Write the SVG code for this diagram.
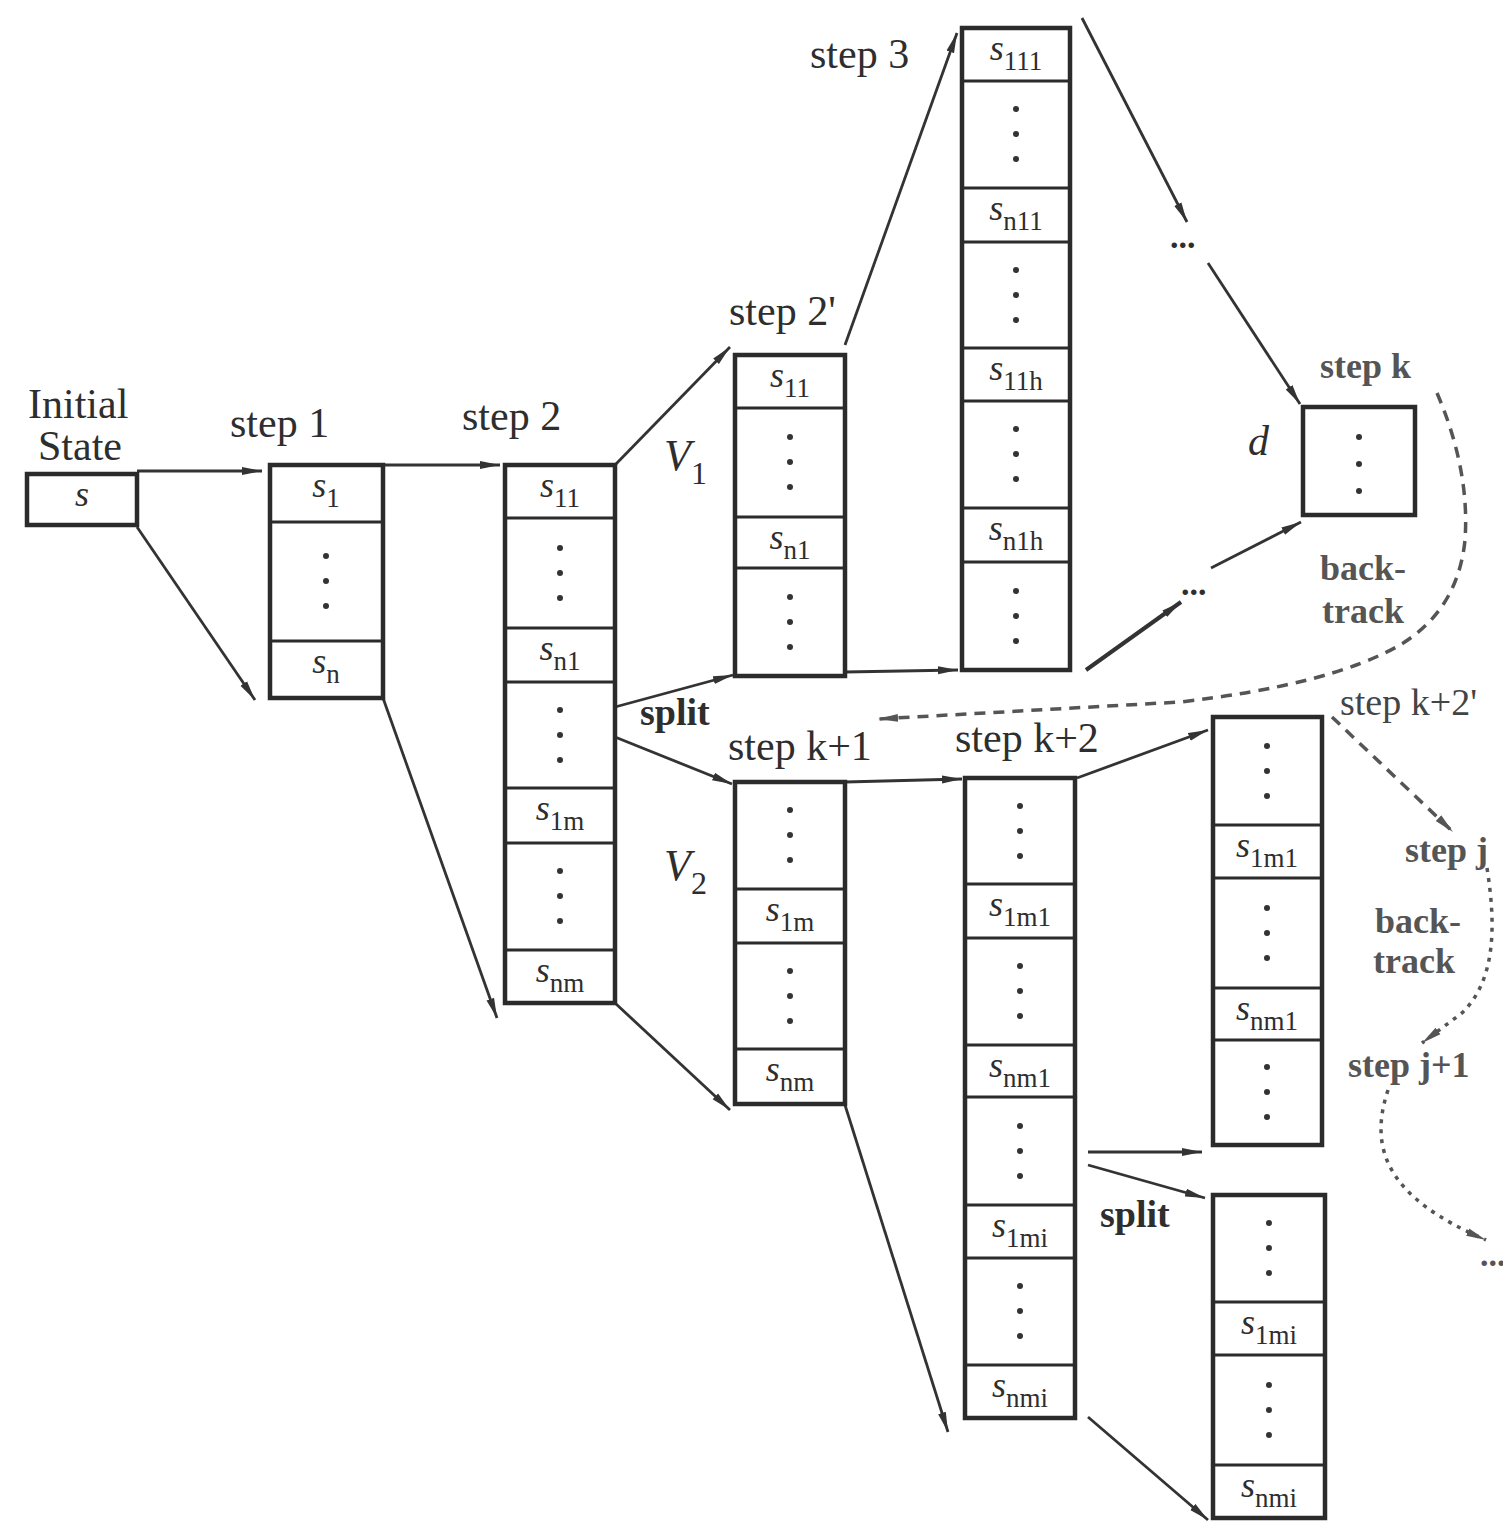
<svg xmlns="http://www.w3.org/2000/svg" width="1503" height="1524" viewBox="0 0 1503 1524">
<style>
.box{fill:none;stroke:#2b2b2b;stroke-width:4.5}
.dv{stroke:#2b2b2b;stroke-width:3}
.c{stroke:#333;stroke-width:2.8;fill:none;marker-end:url(#ah)}
.dash{stroke:#555;stroke-width:3.5;stroke-dasharray:11 8;fill:none;marker-end:url(#ahg)}
.dot{stroke:#555;stroke-width:3.5;stroke-dasharray:4 6;fill:none;marker-end:url(#ahg)}
text{font-family:"Liberation Serif","Times New Roman",serif;fill:#2e2e2e}
.lbl{font-size:42px}
.g{font-size:36px;font-weight:bold;fill:#555}
.cl{font-size:36px;text-anchor:middle}
.s{font-style:italic}
.sub{font-size:27px;font-style:normal}
.d{fill:#333}
.ell{font-size:34px;font-weight:bold}
</style>
<defs>
<marker id="ah" viewBox="0 0 20 10" refX="20" refY="5" markerWidth="20" markerHeight="10" markerUnits="userSpaceOnUse" orient="auto"><path d="M0,1 L20,5 L0,9 Z" fill="#333"/></marker>
<marker id="ahg" viewBox="0 0 20 10" refX="20" refY="5" markerWidth="20" markerHeight="10" markerUnits="userSpaceOnUse" orient="auto"><path d="M0,1 L20,5 L0,9 Z" fill="#555"/></marker>
</defs>
<rect width="1503" height="1524" fill="#fff"/>

<g id="connectors">
<path class="c" d="M137,471 L262,471"/>
<path class="c" d="M137,527 L255,700"/>
<path class="c" d="M383,465 L500,465"/>
<path class="c" d="M383,698 L497,1018"/>
<path class="c" d="M615,465 L730,347"/>
<path class="c" d="M615,707 L733,675"/>
<path class="c" d="M615,737 L732,784"/>
<path class="c" d="M615,1003 L730,1110"/>
<path class="c" d="M845,345 L957,33"/>
<path class="c" d="M845,672 L958,670"/>
<path class="c" d="M1082,18 L1187,222"/>
<path class="c" d="M1208,263 L1300,404"/>
<path class="c" d="M1086,670 L1181,602" style="stroke-width:4"/>
<path class="c" d="M1211,568 L1301,522"/>
<path class="c" d="M845,782 L962,779"/>
<path class="c" d="M845,1105 L948,1432"/>
<path class="c" d="M1077,778 L1208,730"/>
<path class="c" d="M1088,1152 L1202,1152"/>
<path class="c" d="M1088,1165 L1205,1198"/>
<path class="c" d="M1088,1417 L1208,1520"/>
<path class="dash" d="M1437,393 Q1470,470 1465,540 Q1458,610 1400,645 Q1330,685 1180,702 L878,719"/>
<path class="dash" d="M1332,717 L1453,832"/>
<path class="dot" d="M1487,868 C1496,925 1496,980 1462,1013 L1422,1043"/>
<path class="dot" d="M1388,1090 C1368,1150 1388,1198 1486,1240"/>
</g>

<g id="labels">
<text class="lbl" x="28" y="418">Initial</text>
<text class="lbl" x="38" y="460">State</text>
<text class="lbl" x="230" y="437">step 1</text>
<text class="lbl" x="462" y="430">step 2</text>
<text class="lbl" x="729" y="325">step 2'</text>
<text class="lbl" x="810" y="68">step 3</text>
<text class="lbl s" x="664" y="470" style="font-size:44px">V<tspan class="sub" dy="14" style="font-size:32px">1</tspan></text>
<text class="lbl s" x="664" y="880" style="font-size:44px">V<tspan class="sub" dy="14" style="font-size:32px">2</tspan></text>
<text class="lbl" x="640" y="725" style="font-weight:bold;font-size:38px">split</text>
<text class="lbl" x="728" y="760">step k+1</text>
<text class="lbl" x="955" y="752">step k+2</text>
<text class="lbl s" x="1248" y="455">d</text>
<text class="lbl" x="1100" y="1227" style="font-weight:bold;font-size:38px">split</text>
<text class="ell" x="1170" y="248">...</text>
<text class="ell" x="1181" y="595">...</text>
<text class="ell" x="1480" y="1266" style="fill:#555">...</text>
<text class="g" x="1320" y="378">step k</text>
<text class="g" x="1320" y="580">back-</text>
<text class="g" x="1322" y="623">track</text>
<text class="g" x="1340" y="715" style="font-weight:normal;fill:#444;font-size:38px">step k+2'</text>
<text class="g" x="1405" y="862">step j</text>
<text class="g" x="1375" y="933">back-</text>
<text class="g" x="1373" y="973">track</text>
<text class="g" x="1348" y="1077">step j+1</text>
</g>

<g id="initial">
<rect class="box" x="27" y="474" width="110" height="51"/>
<text class="cl s" x="82" y="506">s</text>
</g>

<g id="step1">
<rect class="box" x="270" y="465" width="113" height="233"/>
<line class="dv" x1="270" y1="522" x2="383" y2="522"/>
<line class="dv" x1="270" y1="641" x2="383" y2="641"/>
<text class="cl" x="326" y="497"><tspan class="s">s</tspan><tspan class="sub" dy="10">1</tspan></text>
<circle class="d" cx="326" cy="556" r="3"/><circle class="d" cx="326" cy="581" r="3"/><circle class="d" cx="326" cy="606" r="3"/>
<text class="cl" x="326" y="673"><tspan class="s">s</tspan><tspan class="sub" dy="10">n</tspan></text>
</g>

<g id="step2">
<rect class="box" x="505" y="465" width="110" height="538"/>
<line class="dv" x1="505" y1="518" x2="615" y2="518"/>
<line class="dv" x1="505" y1="628" x2="615" y2="628"/>
<line class="dv" x1="505" y1="682" x2="615" y2="682"/>
<line class="dv" x1="505" y1="788" x2="615" y2="788"/>
<line class="dv" x1="505" y1="843" x2="615" y2="843"/>
<line class="dv" x1="505" y1="950" x2="615" y2="950"/>
<text class="cl" x="560" y="497"><tspan class="s">s</tspan><tspan class="sub" dy="10">11</tspan></text>
<circle class="d" cx="560" cy="548" r="3"/><circle class="d" cx="560" cy="573" r="3"/><circle class="d" cx="560" cy="598" r="3"/>
<text class="cl" x="560" y="660"><tspan class="s">s</tspan><tspan class="sub" dy="10">n1</tspan></text>
<circle class="d" cx="560" cy="710" r="3"/><circle class="d" cx="560" cy="735" r="3"/><circle class="d" cx="560" cy="760" r="3"/>
<text class="cl" x="560" y="820"><tspan class="s">s</tspan><tspan class="sub" dy="10">1m</tspan></text>
<circle class="d" cx="560" cy="871" r="3"/><circle class="d" cx="560" cy="896" r="3"/><circle class="d" cx="560" cy="921" r="3"/>
<text class="cl" x="560" y="982"><tspan class="s">s</tspan><tspan class="sub" dy="10">nm</tspan></text>
</g>

<g id="step2prime">
<rect class="box" x="735" y="355" width="110" height="321"/>
<line class="dv" x1="735" y1="408" x2="845" y2="408"/>
<line class="dv" x1="735" y1="517" x2="845" y2="517"/>
<line class="dv" x1="735" y1="568" x2="845" y2="568"/>
<text class="cl" x="790" y="387"><tspan class="s">s</tspan><tspan class="sub" dy="10">11</tspan></text>
<circle class="d" cx="790" cy="437" r="3"/><circle class="d" cx="790" cy="462" r="3"/><circle class="d" cx="790" cy="487" r="3"/>
<text class="cl" x="790" y="549"><tspan class="s">s</tspan><tspan class="sub" dy="10">n1</tspan></text>
<circle class="d" cx="790" cy="597" r="3"/><circle class="d" cx="790" cy="622" r="3"/><circle class="d" cx="790" cy="647" r="3"/>
</g>

<g id="step3">
<rect class="box" x="962" y="28" width="108" height="642"/>
<line class="dv" x1="962" y1="81" x2="1070" y2="81"/>
<line class="dv" x1="962" y1="188" x2="1070" y2="188"/>
<line class="dv" x1="962" y1="242" x2="1070" y2="242"/>
<line class="dv" x1="962" y1="348" x2="1070" y2="348"/>
<line class="dv" x1="962" y1="401" x2="1070" y2="401"/>
<line class="dv" x1="962" y1="508" x2="1070" y2="508"/>
<line class="dv" x1="962" y1="562" x2="1070" y2="562"/>
<text class="cl" x="1016" y="60"><tspan class="s">s</tspan><tspan class="sub" dy="10">111</tspan></text>
<circle class="d" cx="1016" cy="109" r="3"/><circle class="d" cx="1016" cy="134" r="3"/><circle class="d" cx="1016" cy="159" r="3"/>
<text class="cl" x="1016" y="220"><tspan class="s">s</tspan><tspan class="sub" dy="10">n11</tspan></text>
<circle class="d" cx="1016" cy="270" r="3"/><circle class="d" cx="1016" cy="295" r="3"/><circle class="d" cx="1016" cy="320" r="3"/>
<text class="cl" x="1016" y="380"><tspan class="s">s</tspan><tspan class="sub" dy="10">11h</tspan></text>
<circle class="d" cx="1016" cy="429" r="3"/><circle class="d" cx="1016" cy="454" r="3"/><circle class="d" cx="1016" cy="479" r="3"/>
<text class="cl" x="1016" y="540"><tspan class="s">s</tspan><tspan class="sub" dy="10">n1h</tspan></text>
<circle class="d" cx="1016" cy="591" r="3"/><circle class="d" cx="1016" cy="616" r="3"/><circle class="d" cx="1016" cy="641" r="3"/>
</g>

<g id="stepk">
<rect class="box" x="1303" y="407" width="112" height="108"/>
<circle class="d" cx="1359" cy="437" r="3"/><circle class="d" cx="1359" cy="464" r="3"/><circle class="d" cx="1359" cy="491" r="3"/>
</g>

<g id="stepk1">
<rect class="box" x="735" y="782" width="110" height="322"/>
<line class="dv" x1="735" y1="889" x2="845" y2="889"/>
<line class="dv" x1="735" y1="943" x2="845" y2="943"/>
<line class="dv" x1="735" y1="1049" x2="845" y2="1049"/>
<circle class="d" cx="790" cy="810" r="3"/><circle class="d" cx="790" cy="835" r="3"/><circle class="d" cx="790" cy="860" r="3"/>
<text class="cl" x="790" y="921"><tspan class="s">s</tspan><tspan class="sub" dy="10">1m</tspan></text>
<circle class="d" cx="790" cy="971" r="3"/><circle class="d" cx="790" cy="996" r="3"/><circle class="d" cx="790" cy="1021" r="3"/>
<text class="cl" x="790" y="1081"><tspan class="s">s</tspan><tspan class="sub" dy="10">nm</tspan></text>
</g>

<g id="stepk2">
<rect class="box" x="965" y="778" width="110" height="640"/>
<line class="dv" x1="965" y1="884" x2="1075" y2="884"/>
<line class="dv" x1="965" y1="938" x2="1075" y2="938"/>
<line class="dv" x1="965" y1="1045" x2="1075" y2="1045"/>
<line class="dv" x1="965" y1="1097" x2="1075" y2="1097"/>
<line class="dv" x1="965" y1="1205" x2="1075" y2="1205"/>
<line class="dv" x1="965" y1="1258" x2="1075" y2="1258"/>
<line class="dv" x1="965" y1="1365" x2="1075" y2="1365"/>
<circle class="d" cx="1020" cy="806" r="3"/><circle class="d" cx="1020" cy="831" r="3"/><circle class="d" cx="1020" cy="856" r="3"/>
<text class="cl" x="1020" y="916"><tspan class="s">s</tspan><tspan class="sub" dy="10">1m1</tspan></text>
<circle class="d" cx="1020" cy="966" r="3"/><circle class="d" cx="1020" cy="991" r="3"/><circle class="d" cx="1020" cy="1016" r="3"/>
<text class="cl" x="1020" y="1077"><tspan class="s">s</tspan><tspan class="sub" dy="10">nm1</tspan></text>
<circle class="d" cx="1020" cy="1126" r="3"/><circle class="d" cx="1020" cy="1151" r="3"/><circle class="d" cx="1020" cy="1176" r="3"/>
<text class="cl" x="1020" y="1237"><tspan class="s">s</tspan><tspan class="sub" dy="10">1mi</tspan></text>
<circle class="d" cx="1020" cy="1286" r="3"/><circle class="d" cx="1020" cy="1311" r="3"/><circle class="d" cx="1020" cy="1336" r="3"/>
<text class="cl" x="1020" y="1397"><tspan class="s">s</tspan><tspan class="sub" dy="10">nmi</tspan></text>
</g>

<g id="stepk2prime">
<rect class="box" x="1213" y="717" width="109" height="428"/>
<line class="dv" x1="1213" y1="825" x2="1322" y2="825"/>
<line class="dv" x1="1213" y1="878" x2="1322" y2="878"/>
<line class="dv" x1="1213" y1="988" x2="1322" y2="988"/>
<line class="dv" x1="1213" y1="1040" x2="1322" y2="1040"/>
<circle class="d" cx="1267" cy="746" r="3"/><circle class="d" cx="1267" cy="771" r="3"/><circle class="d" cx="1267" cy="796" r="3"/>
<text class="cl" x="1267" y="857"><tspan class="s">s</tspan><tspan class="sub" dy="10">1m1</tspan></text>
<circle class="d" cx="1267" cy="908" r="3"/><circle class="d" cx="1267" cy="933" r="3"/><circle class="d" cx="1267" cy="958" r="3"/>
<text class="cl" x="1267" y="1020"><tspan class="s">s</tspan><tspan class="sub" dy="10">nm1</tspan></text>
<circle class="d" cx="1267" cy="1067" r="3"/><circle class="d" cx="1267" cy="1092" r="3"/><circle class="d" cx="1267" cy="1117" r="3"/>
</g>

<g id="stepk2split">
<rect class="box" x="1213" y="1195" width="112" height="323"/>
<line class="dv" x1="1213" y1="1302" x2="1325" y2="1302"/>
<line class="dv" x1="1213" y1="1355" x2="1325" y2="1355"/>
<line class="dv" x1="1213" y1="1465" x2="1325" y2="1465"/>
<circle class="d" cx="1269" cy="1223" r="3"/><circle class="d" cx="1269" cy="1248" r="3"/><circle class="d" cx="1269" cy="1273" r="3"/>
<text class="cl" x="1269" y="1334"><tspan class="s">s</tspan><tspan class="sub" dy="10">1mi</tspan></text>
<circle class="d" cx="1269" cy="1385" r="3"/><circle class="d" cx="1269" cy="1410" r="3"/><circle class="d" cx="1269" cy="1435" r="3"/>
<text class="cl" x="1269" y="1497"><tspan class="s">s</tspan><tspan class="sub" dy="10">nmi</tspan></text>
</g>
</svg>
